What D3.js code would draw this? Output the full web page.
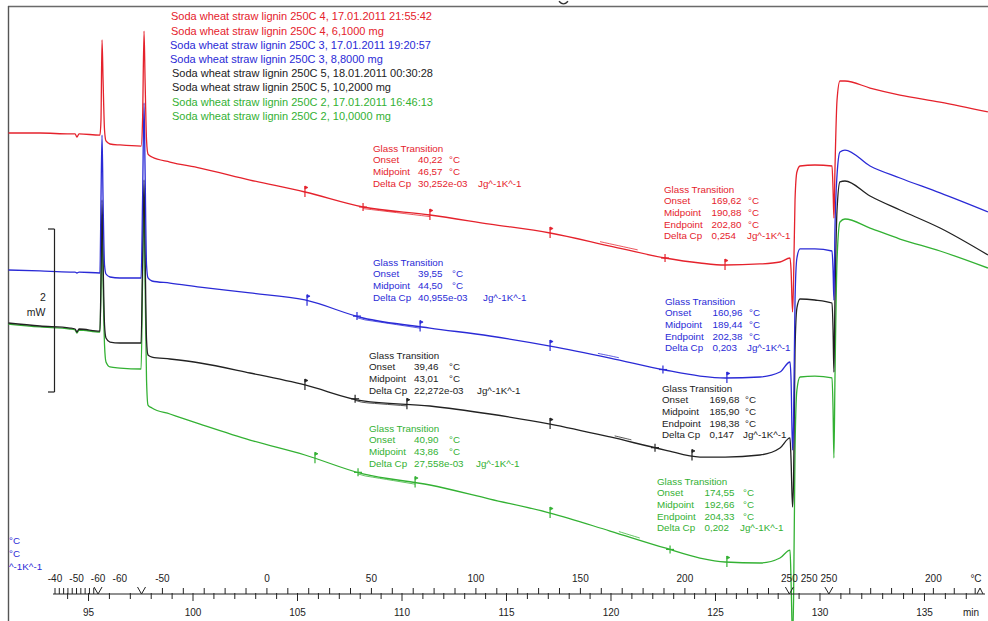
<!DOCTYPE html>
<html>
<head>
<meta charset="utf-8">
<script src="https://cdn.jsdelivr.net/npm/d3@7/dist/d3.min.js"></script>
<style>
  body { margin: 0; background: #fff; }
  svg { display: block; font-family: "Liberation Sans", Arial, sans-serif; }
</style>
</head>
<body>
<svg id="chart" width="988" height="621"></svg>
<script>
// ---- DSC runs: shared time grid (min) and heat flow of each sample (mW) ----
const times = [91.17, 92.70, 94.14, 94.38, 94.47, 94.57, 95.57, 95.62, 95.67, 95.72, 95.79, 95.86,
  96.05, 96.53, 97.54, 97.61, 97.68, 97.73, 97.80, 97.87, 98.06, 98.92, 100.36, 102.75,
  105.38, 108.16, 111.36, 114.23, 117.11, 119.98, 122.61, 124.28, 125.48, 127.15, 128.11, 128.59,
  128.64, 128.71, 128.76, 128.83, 128.92, 129.07, 129.78, 130.60, 130.65, 130.69, 130.74, 130.84,
  130.98, 131.22, 132.42, 133.85, 135.77, 138.06];

const redFlow = [3.178, 3.178, 3.166, 3.166, 3.129, 3.166, 3.153, 3.337, 4.319, 3.828, 3.215, 3.080,
  3.043, 3.031, 3.018, 3.337, 4.429, 3.828, 3.092, 2.920, 2.883, 2.822, 2.748, 2.601,
  2.454, 2.270, 2.172, 2.061, 1.951, 1.791, 1.644, 1.583, 1.558, 1.571, 1.595, 1.644,
  1.497, 0.982, 1.374, 2.356, 2.699, 2.773, 2.785, 2.773, 2.479, 2.135, 2.724, 3.583,
  3.816, 3.816, 3.730, 3.644, 3.558, 3.436];

const blueFlow = [1.497, 1.485, 1.472, 1.472, 1.460, 1.472, 1.460, 2.356, 3.153, 2.356, 1.558, 1.448,
  1.411, 1.399, 1.399, 2.356, 3.546, 2.724, 1.558, 1.399, 1.362, 1.337, 1.288, 1.215,
  1.129, 0.908, 0.785, 0.687, 0.564, 0.417, 0.270, 0.196, 0.172, 0.184, 0.245, 0.368,
  0.147, -0.712, -0.344, 1.129, 1.644, 1.755, 1.755, 1.730, 1.497, 1.129, 1.988, 2.663,
  2.945, 2.969, 2.773, 2.626, 2.442, 2.209];

const blackFlow = [0.847, 0.810, 0.785, 0.773, 0.736, 0.773, 0.748, 1.374, 2.356, 1.620, 0.822, 0.663,
  0.613, 0.601, 0.601, 1.620, 2.601, 1.742, 0.638, 0.454, 0.429, 0.405, 0.356, 0.233,
  0.086, -0.110, -0.172, -0.270, -0.393, -0.552, -0.712, -0.798, -0.798, -0.773, -0.687, -0.564,
  -0.834, -1.411, -1.080, 0.515, 1.031, 1.141, 1.129, 1.092, 0.761, 0.245, 1.129, 2.233,
  2.577, 2.589, 2.405, 2.233, 2.012, 1.681];

const greenFlow = [0.834, 0.798, 0.773, 0.761, 0.724, 0.761, 0.736, 1.252, 2.172, 1.374, 0.577, 0.368,
  0.307, 0.294, 0.282, 1.374, 2.356, 1.374, 0.147, -0.160, -0.196, -0.270, -0.393, -0.589,
  -0.773, -1.006, -1.141, -1.313, -1.485, -1.706, -1.914, -2.037, -2.086, -2.098, -2.037, -1.939,
  -2.307, -3.043, -2.552, -0.712, 0.025, 0.184, 0.196, 0.172, -0.221, -0.810, 0.147, 1.620,
  2.086, 2.123, 2.012, 1.877, 1.730, 1.521];

// ---- evaluation marks (min): limit flags and the transition crosses ----
const redFlags = [105.38, 111.36, 117.11, 125.48];   const redCrosses = [108.16, 122.61];
const blueFlags = [105.48, 110.89, 117.11, 125.57];  const blueCrosses = [107.87, 122.51];
const blackFlags = [105.38, 110.26, 117.11, 123.90]; const blackCrosses = [107.78, 122.13];
const greenFlags = [105.86, 110.65, 117.11, 125.57]; const greenCrosses = [107.92, 122.85];
// tangent pieces drawn next to the upper transition (min)
const redTangent = [119.5, 121.3];
const blueTangent = [119.4, 120.4];
const blackTangent = [120.2, 121.0];
const greenTangent = [120.4, 121.4];

// ---- glass transition results ----
const redLow = ["40,22", "46,57", "30,252e-03"];
const redHigh = ["169,62", "190,88", "202,80", "0,254"];
const blueLow = ["39,55", "44,50", "40,955e-03"];
const blueHigh = ["160,96", "189,44", "202,38", "0,203"];
const blackLow = ["39,46", "43,01", "22,272e-03"];
const blackHigh = ["169,68", "185,90", "198,38", "0,147"];
const greenLow = ["40,90", "43,86", "27,558e-03"];
const greenHigh = ["174,55", "192,66", "204,33", "0,202"];

// ---- sample legend ----
const legendText = [
  "Soda wheat straw lignin 250C 4, 17.01.2011 21:55:42",
  "Soda wheat straw lignin 250C 4, 6,1000 mg",
  "Soda wheat straw lignin 250C 3, 17.01.2011 19:20:57",
  "Soda wheat straw lignin 250C 3, 8,8000 mg",
  "Soda wheat straw lignin 250C 5, 18.01.2011 00:30:28",
  "Soda wheat straw lignin 250C 5, 10,2000 mg",
  "Soda wheat straw lignin 250C 2, 17.01.2011 16:46:13",
  "Soda wheat straw lignin 250C 2, 10,0000 mg"
];

// ---- temperature program: segment boundaries (min, °C) ----
const programTimes = [93.42, 95.48, 97.56, 128.56, 130.45, 137.92];
const programTemps = [-40, -60, -60, 250, 250, 175.3];
const tempLabelSegment = [0, 0, 0, 1, 2, 2, 2, 2, 2, 2, 2, 3, 4, 4];
const tempLabelValue = [-40, -50, -60, -60, -50, 0, 50, 100, 150, 200, 250, 250, 250, 200];

// ---- time axis ticks (min) ----
const minuteTicks = d3.range(94, 138);

// scale bar
const scaleBarFrom = 0, scaleBarTo = 2;

const COLORS = { red: "#e5222c", blue: "#2a2ad6", black: "#222222", green: "#33b133" };

const svg = d3.select("#chart");
const x = d3.scaleLinear().domain([93.42, 137.92]).range([55, 985]);
const y = d3.scaleLinear().domain([0, 2]).range([392, 229]);

svg.append("defs").append("clipPath").attr("id", "plotClip")
  .append("rect").attr("x", 8.5).attr("y", 7).attr("width", 980).attr("height", 614);

// bit of a glyph peeking under the top edge
svg.append("path").attr("d", "M559,1.2 Q563.5,6.5 568,1.2")
  .attr("fill", "none").attr("stroke", "#333").attr("stroke-width", 1.4);

// frame
svg.append("line").attr("x1", 8).attr("x2", 988).attr("y1", 6.5).attr("y2", 6.5)
  .attr("stroke", "#6a6a6a").attr("stroke-width", 1.6);
svg.append("line").attr("x1", 8.5).attr("x2", 8.5).attr("y1", 6).attr("y2", 621)
  .attr("stroke", "#555").attr("stroke-width", 1.4);

const plot = svg.append("g").attr("clip-path", "url(#plotClip)");

// legend
const legendColors = [COLORS.red, COLORS.red, COLORS.blue, COLORS.blue, COLORS.black, COLORS.black, COLORS.green, COLORS.green];
const legendX = [171, 171, 170, 170, 172, 172, 172, 172];
const legendY = [20, 35, 49, 63, 77, 91, 106, 120];
plot.append("g").selectAll("text").data(legendText).join("text")
  .attr("x", (d, i) => legendX[i]).attr("y", (d, i) => legendY[i])
  .attr("font-size", 11).attr("fill", (d, i) => legendColors[i]).text(d => d);

// glass transition annotations
function annotate(x0, yc, color, values, withEnd, unitX, cpX) {
  const g = plot.append("g").attr("fill", color).attr("font-size", 9.8);
  const rows = withEnd
    ? [["Onset", values[0], "°C"], ["Midpoint", values[1], "°C"], ["Endpoint", values[2], "°C"], ["Delta Cp", values[3], "Jg^-1K^-1"]]
    : [["Onset", values[0], "°C"], ["Midpoint", values[1], "°C"], ["Delta Cp", values[2], "Jg^-1K^-1"]];
  const step = 11.7;
  const valX = withEnd ? 47.5 : 45;
  g.append("text").attr("x", x0).attr("y", yc + 3.5).text("Glass Transition");
  rows.forEach((r, i) => {
    const by = yc + 3.5 + step * (i + 1);
    g.append("text").attr("x", x0).attr("y", by).text(r[0]);
    g.append("text").attr("x", x0 + valX).attr("y", by).text(r[1]);
    g.append("text").attr("x", x0 + (r[2] === "°C" ? unitX : cpX)).attr("y", by).text(r[2]);
  });
}
annotate(373, 148, COLORS.red, redLow, false, 76, 105);
annotate(664, 189, COLORS.red, redHigh, true, 84, 83);
annotate(373, 262, COLORS.blue, blueLow, false, 79, 110);
annotate(665, 301, COLORS.blue, blueHigh, true, 84, 82);
annotate(369, 355, COLORS.black, blackLow, false, 80, 108);
annotate(662, 388, COLORS.black, blackHigh, true, 83, 81);
annotate(369, 428, COLORS.green, greenLow, false, 80, 107);
annotate(657, 481, COLORS.green, greenHigh, true, 86, 83);

// unit texts of an annotation sitting at the left edge
const leftG = svg.append("g").attr("fill", COLORS.blue).attr("font-size", 9.8);
leftG.append("text").attr("x", 9).attr("y", 544).text("°C");
leftG.append("text").attr("x", 9).attr("y", 557).text("°C");
leftG.append("text").attr("x", 9).attr("y", 570).text("^-1K^-1");

// scale bar 2 mW
const bar = svg.append("g").attr("stroke", "#222").attr("stroke-width", 1.2).attr("fill", "none");
bar.append("line").attr("x1", 54.5).attr("x2", 54.5).attr("y1", y(scaleBarTo)).attr("y2", y(scaleBarFrom));
bar.append("line").attr("x1", 48).attr("x2", 54.5).attr("y1", y(scaleBarTo)).attr("y2", y(scaleBarTo));
bar.append("line").attr("x1", 48).attr("x2", 54.5).attr("y1", y(scaleBarFrom)).attr("y2", y(scaleBarFrom));
svg.append("text").attr("x", 43).attr("y", 301).attr("text-anchor", "middle")
  .attr("font-size", 10.5).attr("fill", "#222").text(scaleBarTo - scaleBarFrom);
svg.append("text").attr("x", 36).attr("y", 316).attr("text-anchor", "middle")
  .attr("font-size", 10.5).attr("fill", "#222").text("mW");

// curves
const line = d3.line().x((d, i) => x(times[i])).y(d => y(d)).curve(d3.curveMonotoneX);
const series = [
  { vals: greenFlow, color: COLORS.green, flags: greenFlags, crosses: greenCrosses, tangent: greenTangent },
  { vals: blackFlow, color: COLORS.black, flags: blackFlags, crosses: blackCrosses, tangent: blackTangent },
  { vals: blueFlow, color: COLORS.blue, flags: blueFlags, crosses: blueCrosses, tangent: blueTangent },
  { vals: redFlow, color: COLORS.red, flags: redFlags, crosses: redCrosses, tangent: redTangent }
];

function valueAt(vals, t) {
  const i = Math.max(1, d3.bisectLeft(times, t));
  const t0 = times[i - 1], t1 = times[i];
  return vals[i - 1] + (vals[i] - vals[i - 1]) * (t - t0) / (t1 - t0);
}

series.forEach(s => {
  plot.append("path").datum(s.vals).attr("d", line)
    .attr("fill", "none").attr("stroke", s.color).attr("stroke-width", 1.3);
  // thin tangent lines lying just beside the curve
  const tg = plot.append("g").attr("stroke", s.color).attr("stroke-width", 0.9).attr("fill", "none").attr("opacity", 0.85);
  const segs = [[s.crosses[0], s.flags[1], 1.6], [s.tangent[0], s.tangent[1], -2.2]];
  segs.forEach(([ta, tb, off]) => {
    const pts = d3.range(ta, tb + 1e-9, (tb - ta) / 8).map(t => [x(t), y(valueAt(s.vals, t)) + off]);
    tg.append("path").attr("d", d3.line()(pts));
  });
  const mk = plot.append("g").attr("stroke", s.color).attr("stroke-width", 1.2).attr("fill", s.color);
  s.flags.forEach(t => {
    const px = x(t), py = y(valueAt(s.vals, t));
    mk.append("line").attr("x1", px).attr("x2", px).attr("y1", py - 6).attr("y2", py + 5);
    mk.append("path").attr("d", `M${px},${py - 6}L${px + 3},${py - 4.5}L${px},${py - 3}Z`).attr("stroke-width", 0.8);
  });
  s.crosses.forEach(t => {
    const px = x(t), py = y(valueAt(s.vals, t));
    mk.append("line").attr("x1", px - 4).attr("x2", px + 4).attr("y1", py).attr("y2", py);
    mk.append("line").attr("x1", px).attr("x2", px).attr("y1", py - 4).attr("y2", py + 4);
  });
});

// ---- bottom axes ----
const axisY = 594;
// time axis (min)
const minAxis = d3.axisBottom(x).tickValues(minuteTicks).tickSize(5).tickPadding(10)
  .tickFormat(d => d % 5 === 0 ? d : "");
const ag = svg.append("g").attr("transform", `translate(0,${axisY})`).call(minAxis);
ag.select(".domain").remove();
ag.selectAll(".tick line").attr("stroke", "#222").attr("y1", -1).attr("y2", d => d % 5 === 0 ? 7 : 5);
ag.selectAll(".tick text").attr("fill", "#222").attr("font-size", 10)
  .attr("font-family", "Liberation Sans, Arial, sans-serif");
svg.append("line").attr("x1", x(programTimes[0]) - 2).attr("x2", x(programTimes[programTimes.length - 1]))
  .attr("y1", axisY).attr("y2", axisY).attr("stroke", "#222").attr("stroke-width", 1.2);
svg.append("text").attr("x", 971).attr("y", 616).attr("text-anchor", "middle")
  .attr("font-size", 10).attr("fill", "#222").text("min");

// temperature scale following the program
function timeOfTemp(seg, T) {
  const t0 = programTimes[seg], t1 = programTimes[seg + 1];
  const T0 = programTemps[seg], T1 = programTemps[seg + 1];
  if (T0 === T1) return (t0 + t1) / 2;
  return t0 + (T - T0) / (T1 - T0) * (t1 - t0);
}
const tempTicks = [];
d3.range(-42, -60, -2).forEach(T => tempTicks.push(timeOfTemp(0, T)));
d3.range(-50, 250, 10).forEach(T => tempTicks.push(timeOfTemp(2, T)));
d3.range(240, 175, -10).forEach(T => tempTicks.push(timeOfTemp(4, T)));
const tkg = svg.append("g").attr("stroke", "#222").attr("stroke-width", 1);
tempTicks.forEach(t => tkg.append("line").attr("x1", x(t)).attr("x2", x(t)).attr("y1", axisY - 6).attr("y2", axisY));
tkg.append("line").attr("x1", x(programTimes[0])).attr("x2", x(programTimes[0])).attr("y1", axisY - 6).attr("y2", axisY);

svg.append("g").selectAll("text").data(tempLabelValue).join("text")
  .attr("x", (d, i) => x(timeOfTemp(tempLabelSegment[i], d)))
  .attr("y", 582).attr("text-anchor", "middle").attr("font-size", 10).attr("fill", "#222")
  .text(d => d);
svg.append("text").attr("x", 976).attr("y", 582).attr("text-anchor", "middle")
  .attr("font-size", 10).attr("fill", "#222").text("°C");

// segment boundary marks
const vg = svg.append("g").attr("stroke", "#222").attr("stroke-width", 1).attr("fill", "none");
programTimes.slice(1, -1).forEach(t => {
  const px = x(t);
  vg.append("path").attr("d", `M${px - 4},${axisY - 7}L${px},${axisY}L${px + 4},${axisY - 7}`);
});
const endX = x(programTimes[programTimes.length - 1]) - 5;
vg.append("path").attr("d", `M${endX - 3},${axisY}L${endX},${axisY - 6}L${endX + 3},${axisY}`);
</script>
</body>
</html>
